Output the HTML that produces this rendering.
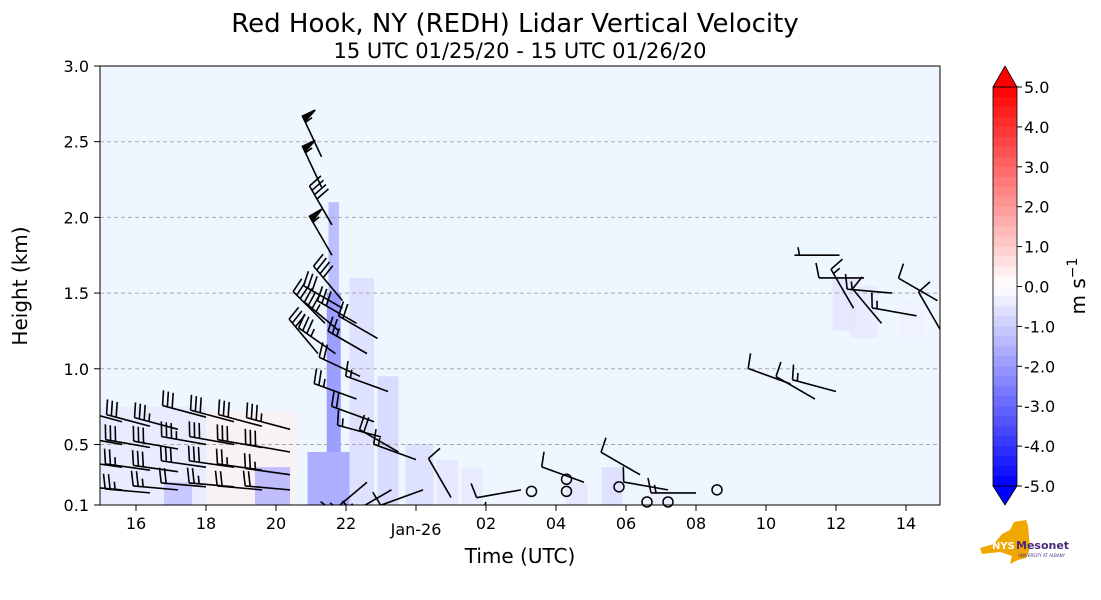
<!DOCTYPE html>
<html><head><meta charset="utf-8">
<style>
body{margin:0;background:#fff;}
svg{display:block;font-family:"DejaVu Sans","Liberation Sans",sans-serif;}
</style></head>
<body>
<svg id="chart" width="1101" height="600" viewBox="0 0 1101 600">
<text x="515" y="32" font-size="26" text-anchor="middle">Red Hook, NY (REDH) Lidar Vertical Velocity</text>
<text x="520" y="58" font-size="21" text-anchor="middle">15 UTC 01/25/20 - 15 UTC 01/26/20</text>
<g id="plot"></g>
<text transform="translate(27,286) rotate(-90)" font-size="20" text-anchor="middle">Height (km)</text>
<text x="520" y="563" font-size="20" text-anchor="middle">Time (UTC)</text>
<g id="cbar"></g>
<text transform="translate(1085,286) rotate(-90)" font-size="20" text-anchor="middle">m s<tspan dy="-8" font-size="14">−1</tspan></text>
<g transform="translate(980,520)">
<path d="M0,28 L14,24 L22,14 L30,10 L34,2 L46,0 L48,6 L50,28 L46,38 L38,40 L30,44 L32,36 L20,32 L2,34 Z" fill="#f0a800"/>
<text x="12" y="29" font-size="10" font-weight="bold" fill="#fff">NYS</text>
<text x="36" y="29" font-size="11" font-weight="bold" fill="#4b2a7b">Mesonet</text>
<text x="38" y="37" font-size="4" fill="#4b2a7b">UNIVERSITY AT ALBANY</text>
</g>
</svg>
<script>
// ---- data ----
const xTickHours=[16,18,20,22,24,26,28,30,32,34,36,38];
const xTickLabels=["16","18","20","22","","02","04","06","08","10","12","14"];
const yTicks=[0.1,0.5,1.0,1.5,2.0,2.5,3.0];
const yTickLabels=["0.1","0.5","1.0","1.5","2.0","2.5","3.0"];
const cbarTicks=[5,4,3,2,1,0,-1,-2,-3,-4,-5];
// velocity patches: start hour, end hour, bottom km, top km, value m/s
const vStart=[15.0,18.0,16.8,19.4,20.9,21.45,21.5,22.1,22.9,23.7,24.6,25.3,26.3,28.3,29.3,30.6,35.9,36.4,37.8];
const vEnd  =[18.0,20.6,17.6,20.4,22.1,21.85,21.8,22.8,23.5,24.5,25.2,25.9,27.2,28.9,29.9,31.3,36.6,37.2,38.5];
const vBot  =[0.1,0.1,0.1,0.1,0.1,0.45,1.4,0.1,0.1,0.1,0.1,0.1,0.1,0.1,0.1,0.1,1.25,1.2,1.2];
const vTop  =[0.75,0.72,0.25,0.35,0.45,1.5,2.1,1.6,0.95,0.5,0.4,0.35,0.2,0.25,0.35,0.2,1.6,1.55,1.45];
const vVal  =[-0.5,0.3,-1.5,-2.0,-2.5,-3.0,-2.0,-0.8,-1.0,-0.8,-0.6,-0.5,-0.3,-0.6,-0.8,-0.4,-0.6,-0.5,-0.3];
// wind barbs: hour, height km, speed kt, direction deg
const bHour=[15.6,16.4,17.2,18.0,18.8,19.6,20.4,15.6,16.4,17.2,18.0,18.8,19.6,20.4,15.6,16.4,17.2,18.0,18.8,19.6,20.4,15.6,16.4,17.2,18.0,18.8,19.6,20.4,21.3,21.3,21.6,21.6,21.9,21.8,21.7,21.4,21.2,21.9,22.3,22.6,22.4,22.9,22.3,22.8,23.2,23.0,23.5,24.0,22.6,23.3,24.2,25.0,26.0,27.0,28.8,30.4,31.2,32.0,34.7,35.4,36.0,36.8,37.6,38.3,38.9,39.0,36.5,37.3,36.1];
const bHeight=[0.65,0.62,0.6,0.68,0.65,0.62,0.6,0.5,0.48,0.47,0.5,0.5,0.48,0.45,0.35,0.33,0.32,0.35,0.35,0.33,0.3,0.2,0.18,0.2,0.22,0.22,0.2,0.2,2.4,2.2,1.95,1.75,1.45,1.25,1.1,1.3,1.1,1.4,1.3,1.1,0.95,1.2,0.8,0.65,0.85,0.55,0.45,0.4,0.25,0.2,0.2,0.15,0.12,0.2,0.25,0.3,0.2,0.18,0.9,0.8,0.85,1.6,1.5,1.35,1.45,1.25,1.4,1.3,1.75];
const bSpeed=[30,30,35,30,30,30,35,35,30,30,35,30,30,30,30,25,30,30,30,25,25,20,25,25,20,25,20,20,55,55,40,55,40,35,35,30,30,30,30,25,20,20,25,20,15,15,20,15,15,15,10,10,10,10,10,10,10,15,10,10,15,10,15,15,10,10,15,10,5];
const bDir=[285,285,285,285,285,285,285,280,280,280,280,280,280,280,278,278,278,278,278,278,278,275,275,275,275,275,275,275,335,335,330,330,320,310,305,315,320,300,300,300,295,300,290,290,290,285,300,290,230,240,250,330,200,260,290,300,280,270,290,300,285,270,275,280,300,330,330,320,270];
// calm circles: hour, height km
const cHour=[27.3,28.3,28.3,29.8,31.2,30.6,32.6];
const cHeight=[0.19,0.27,0.19,0.22,0.12,0.12,0.2];

// ---- scales ----
const X0=101,PX_H=35,Y0=505,PX_KM=(505-66)/2.9;
const xS=h=>X0+(h-15)*PX_H;
const yS=k=>Y0-(k-0.1)*PX_KM;
const NS="http://www.w3.org/2000/svg";
function mk(tag,attrs,parent){const e=document.createElementNS(NS,tag);for(const k in attrs)e.setAttribute(k,attrs[k]);parent.appendChild(e);return e;}
function col(v){v=Math.max(-5,Math.min(5,v));const t=Math.abs(v)/5;const c=Math.round(255*(1-t));return v<0?`rgb(${c},${c},255)`:`rgb(255,${c},${c})`;}

const plot=document.getElementById('plot');
const bg=mk('rect',{x:100,y:66,width:840,height:439,fill:'#eef6ff'},plot);


const clip=mk('clipPath',{id:'pc'},plot);mk('rect',{x:100,y:66,width:840,height:439},clip);
const vg=mk('g',{'clip-path':'url(#pc)'},plot);
for(let i=0;i<vStart.length;i++){
  const r=mk('rect',{x:xS(vStart[i]),y:yS(vTop[i]),width:xS(vEnd[i])-xS(vStart[i]),height:yS(vBot[i])-yS(vTop[i]),fill:col(vVal[i]),opacity:0.6},vg);
  
  
}
// grid
for(let i=1;i<yTicks.length-1;i++){
  const g=mk('line',{x1:100,x2:940,y1:yS(yTicks[i]),y2:yS(yTicks[i]),stroke:'#aaa','stroke-dasharray':'4,3','stroke-width':1},plot);
  
  
}
// barbs
const bgG=mk('g',{'clip-path':'url(#pc)',stroke:'#000','stroke-width':1.6,fill:'none'},plot);
for(let i=0;i<bHour.length;i++){
  const x=xS(bHour[i]),y=yS(bHeight[i]);const a=bDir[i]*Math.PI/180;
  const ux=Math.sin(a),uy=-Math.cos(a);const tx=-uy,ty=ux;
  const txx=(ty<0)?tx:-tx,tyy=(ty<0)?ty:-ty;
  const L=45;const ex=x+ux*L,ey=y+uy*L;
  const g=mk('g',{},bgG);
  
  
  mk('line',{x1:x,y1:y,x2:ex,y2:ey},g);
  let s=bSpeed[i],pos=0;
  while(s>=50){const px=ex-ux*pos,py=ey-uy*pos;mk('path',{d:`M${px},${py} L${px+txx*14},${py+tyy*14} L${px-ux*6},${py-uy*6} Z`,fill:'#000'},g);pos+=7;s-=50;}
  while(s>=10){const px=ex-ux*pos,py=ey-uy*pos;mk('line',{x1:px,y1:py,x2:px+txx*15+ux*3,y2:py+tyy*15+uy*3},g);pos+=5;s-=10;}
  if(s>=5){if(pos===0)pos=5;const px=ex-ux*pos,py=ey-uy*pos;mk('line',{x1:px,y1:py,x2:px+txx*8+ux*1.5,y2:py+tyy*8+uy*1.5},g);}
}
for(let i=0;i<cHour.length;i++){
  const c=mk('circle',{cx:xS(cHour[i]),cy:yS(cHeight[i]),r:5,stroke:'#000','stroke-width':1.5,fill:'none'},plot);
  
  
}
// frame + axes
const fr=mk('rect',{x:100,y:66,width:840,height:439,fill:'none',stroke:'#000','stroke-width':1},plot);


for(let i=0;i<xTickHours.length;i++){
  const x=xS(xTickHours[i]);
  mk('line',{x1:x,x2:x,y1:505,y2:511,stroke:'#000'},plot);
  if(xTickLabels[i]){const t=mk('text',{x:x,y:529,'font-size':16,'text-anchor':'middle'},plot);t.textContent=xTickLabels[i];
  
  }
}
const jt=mk('text',{x:xS(24),y:535,'font-size':16,'text-anchor':'middle'},plot);jt.textContent='Jan-26';


for(let i=0;i<yTicks.length;i++){
  const y=yS(yTicks[i]);mk('line',{x1:94,x2:100,y1:y,y2:y,stroke:'#000'},plot);
  const t=mk('text',{x:89,y:y+6,'font-size':16,'text-anchor':'end'},plot);t.textContent=yTickLabels[i];
  
  
}
// colorbar
const cb=document.getElementById('cbar');
const CT=87,CB=486,CX=993,CW=24;const cy=v=>CT+(5-v)*(CB-CT)/10;
for(let k=0;k<40;k++){const v1=5-k*0.25;mk('rect',{x:CX,y:cy(v1),width:CW,height:(CB-CT)/40+0.5,fill:col(v1-0.125)},cb);}
mk('path',{d:`M${CX},${CT} L${CX+CW/2},66 L${CX+CW},${CT} Z`,fill:'#ff0000',stroke:'#000','stroke-width':0.8},cb);
mk('path',{d:`M${CX},${CB} L${CX+CW/2},505 L${CX+CW},${CB} Z`,fill:'#0000ff',stroke:'#000','stroke-width':0.8},cb);
mk('rect',{x:CX,y:CT,width:CW,height:CB-CT,fill:'none',stroke:'#000','stroke-width':0.8},cb);
for(const v of cbarTicks){const y=cy(v);mk('line',{x1:CX+CW,x2:CX+CW+5,y1:y,y2:y,stroke:'#000'},cb);
  const t=mk('text',{x:1024,y:y+6,'font-size':16},cb);t.textContent=v.toFixed(1);
  
  }
</script>
</body></html>
